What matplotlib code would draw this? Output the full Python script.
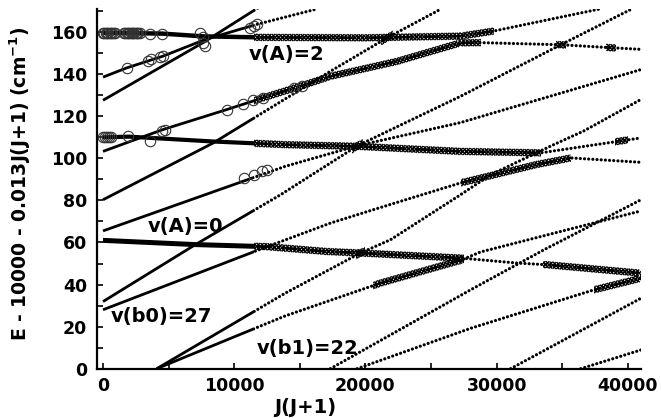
import numpy as np
import matplotlib.pyplot as plt
from matplotlib import patheffects as pe
from matplotlib.patches import Rectangle
from matplotlib.ticker import MultipleLocator

# term values: (J(J+1), E - 10000 - 0.013J(J+1))
a2 = [(0, 159.7), (4500, 159.3), (7600, 158.0), (12000, 157.5), (20000, 157.3),
      (27250, 158.1), (29770, 160.5), (37940, 171.1)]
a1 = [(0, 110.0), (2000, 110.3), (8400, 108.0), (13890, 106.5), (19400, 105.7),
      (27250, 103.3), (33360, 102.6), (41000, 109.7)]
a0 = [(0, 61.0), (7000, 59.0), (12500, 58.0), (17080, 55.7), (19620, 55.0),
      (27250, 52.6), (31580, 50.2), (33870, 49.4), (41000, 45.4)]

b2 = [(0, 138.6), (1810, 143.0), (4580, 148.6), (7790, 156.5), (11730, 163.7), (16300, 171.0)]
b3 = [(0, 127.6), (7630, 155.0), (11830, 171.6)]
b5 = [(0, 103.3), (2500, 109.0), (4580, 113.7), (9440, 123.2), (12210, 128.8), (15040, 134.3),
      (17330, 139.0), (22410, 146.1), (27250, 154.9), (28780, 155.0), (34890, 154.0),
      (38700, 152.6), (41000, 151.8)]
b6 = [(0, 80.3), (8400, 107.3), (17330, 141.4), (21650, 157.3), (25700, 170.8)]
b7 = [(0, 65.5), (13890, 96.2), (19400, 106.0), (27250, 117.0), (41000, 142.2)]
b9 = [(0, 31.9), (7020, 58.9), (13510, 82.6), (19400, 106.0), (27250, 129.5), (34890, 154.0),
      (40230, 170.8)]
b10 = [(0, 28.0), (12500, 58.0), (17330, 69.2), (20610, 75.6), (27250, 88.3), (33000, 97.0),
       (35650, 100.2), (41000, 98.1)]
c_sh = [(4100, 0), (13890, 25.1), (21150, 40.7), (27250, 51.5), (28780, 55.5), (41000, 75.0)]
c_st = [(4100, 0), (13890, 35.9), (19620, 55.0), (21910, 61.3), (27250, 82.7), (29540, 92.2),
        (34350, 106.5), (36640, 113.0), (41000, 128.0)]
d_st = [(17330, 0), (28020, 37.5), (33600, 56.5), (41000, 80.3)]
d_sh = [(19370, 0), (28020, 19.2), (37430, 37.5), (41000, 43.0)]
e_st = [(31070, 0), (41000, 33.5)]
e_sh = [(36410, 0), (41000, 8.9)]

# J(J+1) ranges where the levels are plotted with x symbols
a2_x = [(11500, 29770)]
a1_x = [(11500, 33400), (39000, 40000)]
a0_x = [(11500, 27500), (33500, 41000)]
b5_x = [(11500, 28800), (34500, 35300), (38300, 39100)]
b6_x = [(21200, 22100)]
b9_x = [(19000, 19800)]
b10_x = [(27250, 35650)]
c_sh_x = [(20600, 27500)]
c_st_x = [(19300, 20000)]
d_sh_x = [(37400, 41000)]

# observed levels (open circles)
obs_x = [0, 100, 200, 300, 400, 500, 600, 700, 800, 900,
         1600, 1700, 1800, 1900, 2000, 2100, 2200, 2300, 2400, 2500, 2600, 2700, 2800,
         3590, 4500, 7400, 7600, 7650, 7750,
         1810, 3440, 3670, 4350, 4580, 11220, 11500, 11730,
         0, 150, 300, 450, 600, 1930, 3590,
         4480, 4730, 9440, 10690, 11450, 12210, 14530, 15170,
         10710, 11470, 12110, 12490]
obs_y = [159.6, 159.6, 159.6, 159.6, 159.5, 159.5, 159.5, 159.5, 159.5, 159.5,
         159.4, 159.4, 159.4, 159.4, 159.4, 159.4, 159.4, 159.4, 159.4, 159.4, 159.4, 159.4, 159.4,
         159.3, 159.2, 159.5, 157.5, 155.0, 153.5,
         143.0, 146.2, 147.0, 148.2, 148.6, 162.1, 162.8, 163.7,
         110.0, 110.0, 110.0, 110.1, 110.1, 110.4, 108.1,
         112.9, 113.7, 123.2, 125.9, 127.5, 128.8, 133.5, 134.6,
         90.7, 92.2, 93.8, 94.6]

labels = ['v(A)=2', 'v(A)=0', 'v(b0)=27', 'v(b1)=22']
label_x = [11100, 3400, 600, 11700]
label_y = [149.5, 67.5, 25.0, 9.5]

XMIN, XMAX, YMIN, YMAX = -460, 41000, 0, 171
SOLID_END = 11500

plt.rcParams['font.family'] = 'DejaVu Sans'
plt.rcParams['font.weight'] = 'bold'
fig = plt.figure(figsize=(6.61, 4.18), dpi=100)
ax = fig.add_axes([0.1467, 0.118, 0.8230, 0.8605])


def clip_x(line, x0, x1):
    line.set_clip_path(Rectangle((x0, YMIN), x1 - x0, YMAX - YMIN, transform=ax.transData))


xmark = [pe.TickedStroke(spacing=2.6, angle=a, length=1.15, linewidth=1.0)
         for a in (45, 135, -45, -135)]


def draw_level(pts, xr=(), lw=2.0):
    x, y = zip(*pts)
    ln, = ax.plot(x, y, color='k', lw=lw, solid_capstyle='butt')
    clip_x(ln, XMIN, SOLID_END)
    ln, = ax.plot(x, y, color='k', lw=2.3, ls=(0, (0.01, 1.3)), dash_capstyle='round')
    clip_x(ln, SOLID_END, XMAX)
    for x0, x1 in xr:
        ln, = ax.plot(x, y, color='k', lw=1.0, path_effects=xmark)
        clip_x(ln, x0, x1)


for pts in [b2, b3, b7, e_st, e_sh, d_st]:
    draw_level(pts)
draw_level(a2, a2_x, lw=3.2)
draw_level(a1, a1_x, lw=3.0)
draw_level(a0, a0_x, lw=3.6)
draw_level(b5, b5_x)
draw_level(b6, b6_x)
draw_level(b9, b9_x)
draw_level(b10, b10_x)
draw_level(c_sh, c_sh_x)
draw_level(c_st, c_st_x)
draw_level(d_sh, d_sh_x)

ax.plot(obs_x, obs_y, 'o', mfc='none', mec='#333333', ms=7.5, mew=0.8)

for s, x, y in zip(labels, label_x, label_y):
    ax.text(x, y, s, fontsize=14, fontweight='bold', ha='left', va='center')

ax.set_xlim(XMIN, XMAX)
ax.set_ylim(YMIN, YMAX)
ax.xaxis.set_major_locator(MultipleLocator(10000))
ax.xaxis.set_minor_locator(MultipleLocator(5000))
ax.yaxis.set_major_locator(MultipleLocator(20))
ax.yaxis.set_minor_locator(MultipleLocator(10))
ax.tick_params(which='both', direction='in', length=4, width=1.2, labelsize=12.5)
ax.tick_params(axis='x', pad=6)
ax.tick_params(axis='y', pad=7)
for s in ['top', 'right']:
    ax.spines[s].set_visible(False)
for s in ['left', 'bottom']:
    ax.spines[s].set_linewidth(1.6)

ax.set_xlabel('J(J+1)', fontsize=14, fontweight='bold')
ax.xaxis.set_label_coords(0.382, -0.082)
ax.set_ylabel('E - 10000 - 0.013J(J+1) (cm$^{\\mathbf{-1}}$)', fontsize=13.5, fontweight='bold')
ax.yaxis.set_label_coords(-0.118, 0.515)

fig.savefig('out.png', dpi=100)
